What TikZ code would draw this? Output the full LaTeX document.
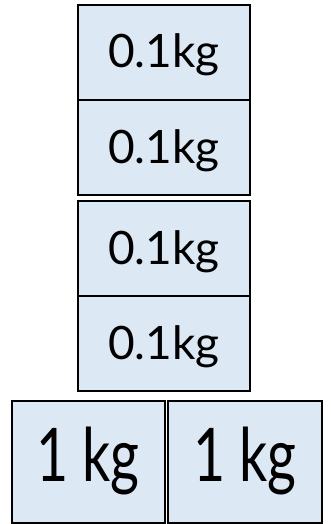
\documentclass[tikz,border=0pt]{standalone}
\usepackage{fontspec}
\setmainfont{Lato}
\definecolor{boxfill}{HTML}{DDE8F5}
\begin{document}
\begin{tikzpicture}[x=1pt,y=-1pt,
  wbox/.style={draw=black,line width=1.4pt,fill=boxfill,rectangle},
  small/.style={anchor=base,inner sep=0pt,font=\fontsize{46}{46}\selectfont},
  big/.style={anchor=base,inner sep=0pt,font=\fontsize{74}{74}\selectfont}]
\useasboundingbox (0,0) rectangle (331,524);
\draw[wbox] (78,5) rectangle (250,100);
\draw[wbox] (78,100) rectangle (250,195);
\draw[wbox] (78,201) rectangle (250,296);
\draw[wbox] (78,296) rectangle (250,391);
\draw[wbox] (12,401) rectangle (165,523);
\draw[wbox] (168,401) rectangle (322,523);
\node[small] (a) at (164,68) {0.1kg};
\node[small] (b) at (164,163) {0.1kg};
\node[small] (c) at (164,264) {0.1kg};
\node[small] (d) at (164,359) {0.1kg};
\node[big] (e) at (88,481) {\scalebox{0.75}[1]{1\hspace{18pt}kg}};
\node[big] (f) at (245,481) {\scalebox{0.75}[1]{1\hspace{18pt}kg}};
\end{tikzpicture}
\end{document}
